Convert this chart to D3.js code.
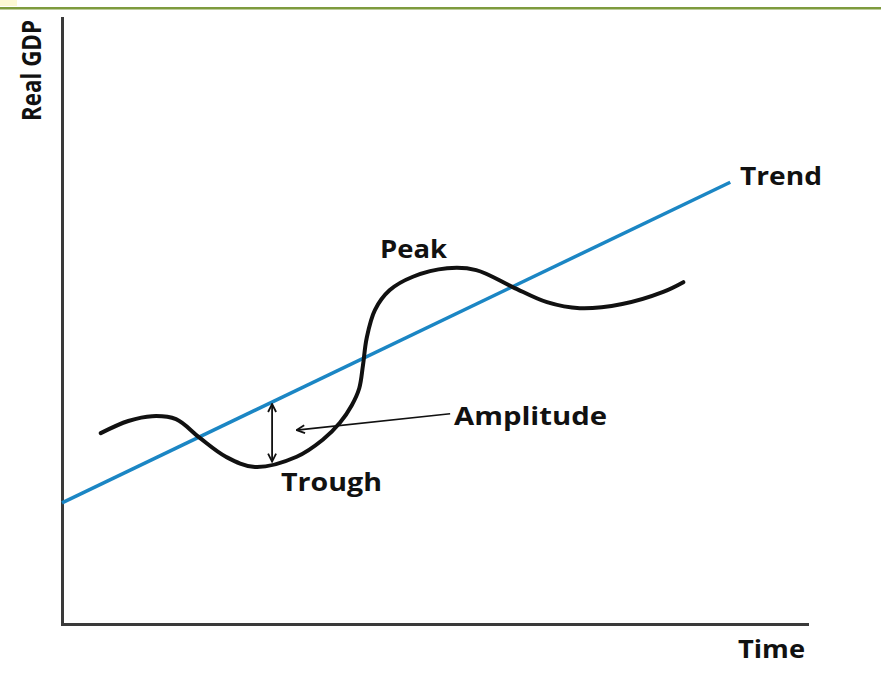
<!DOCTYPE html>
<html>
<head>
<meta charset="utf-8">
<script src="https://cdn.jsdelivr.net/npm/d3@7"></script>
<style>
  body { margin: 0; background: #fff; }
  svg { display: block; }
  text { font-family: "Open Sans", "Noto Sans", sans-serif; font-weight: 700; fill: #111; }
</style>
</head>
<body>
<div id="chart"></div>
<script>
// time runs 0..100 along the x axis, real GDP 0..100 up the y axis
var trendTime = [0, 89.7];
var trendGDP = [20, 72.9];

var cycleTime = [5.2, 8.9, 12.1, 15.3, 18.5, 22.0, 25.9, 31.5, 35.0, 37.3, 38.9, 39.9, 40.4,
                 40.9, 42.0, 44.0, 47.1, 51.7, 55.6, 60.5, 65.1, 69.5, 75.2, 80.7, 83.4];
var cycleGDP = [31.5, 33.5, 34.3, 33.8, 30.7, 27.6, 25.9, 27.6, 30.4, 33.2, 36.1, 38.9, 42.7,
                47.2, 51.8, 55.1, 57.3, 58.7, 58.4, 55.6, 53.1, 52.1, 52.8, 54.8, 56.4];

var amplitudeTime = 28.2;
var amplitudeBottom = 26.8;
var pointerFrom = [52.1, 34.7];
var pointerTo = [31.5, 32.0];

var width = 881, height = 679;

var svg = d3.select("#chart")
  .append("svg")
  .attr("width", width)
  .attr("height", height);

// slide header strip
svg.append("rect").attr("x", 0).attr("y", 0).attr("width", 17).attr("height", 6).attr("fill", "#fcf8d4");
svg.append("rect").attr("x", 0).attr("y", 7).attr("width", width).attr("height", 2.5).attr("fill", "#7e9b3e");

var x = d3.scaleLinear().domain([0, 100]).range([62, 807]);
var y = d3.scaleLinear().domain([0, 100]).range([624, 18]);

var defs = svg.append("defs");
defs.append("marker")
  .attr("id", "vhead")
  .attr("viewBox", "0 0 10 10")
  .attr("refX", 9).attr("refY", 5)
  .attr("markerWidth", 10).attr("markerHeight", 10)
  .attr("markerUnits", "userSpaceOnUse")
  .attr("orient", "auto-start-reverse")
  .append("path")
  .attr("d", "M1,1 L9,5 L1,9")
  .attr("fill", "none")
  .attr("stroke", "#111")
  .attr("stroke-width", 1.8);

// axes (no ticks)
svg.append("g")
  .attr("transform", "translate(0," + y(0) + ")")
  .call(d3.axisBottom(x).tickValues([]).tickSizeOuter(0));
svg.append("g")
  .attr("transform", "translate(" + x(0) + ",0)")
  .call(d3.axisLeft(y).tickValues([]).tickSizeOuter(0));
svg.selectAll(".domain")
  .attr("stroke", "#3a3a3a")
  .attr("stroke-width", 3)
  .attr("stroke-linecap", "square");

// trend line
var trend = trendTime.map(function(t, i) { return [t, trendGDP[i]]; });
svg.append("path")
  .datum(trend)
  .attr("fill", "none")
  .attr("stroke", "#1b86c4")
  .attr("stroke-width", 3.5)
  .attr("d", d3.line().x(function(d) { return x(d[0]); }).y(function(d) { return y(d[1]); }));

// business cycle
var cycle = cycleTime.map(function(t, i) { return [t, cycleGDP[i]]; });
svg.append("path")
  .datum(cycle)
  .attr("fill", "none")
  .attr("stroke", "#111")
  .attr("stroke-width", 4)
  .attr("stroke-linecap", "round")
  .attr("d", d3.line()
    .curve(d3.curveCatmullRom.alpha(0.5))
    .x(function(d) { return x(d[0]); })
    .y(function(d) { return y(d[1]); }));

// amplitude double arrow
var trendAt = d3.scaleLinear().domain(trendTime).range(trendGDP);
svg.append("line")
  .attr("x1", x(amplitudeTime)).attr("y1", y(trendAt(amplitudeTime)) + 2)
  .attr("x2", x(amplitudeTime)).attr("y2", y(amplitudeBottom))
  .attr("stroke", "#111")
  .attr("stroke-width", 1.8)
  .attr("marker-start", "url(#vhead)")
  .attr("marker-end", "url(#vhead)");

// pointer to amplitude
svg.append("line")
  .attr("x1", x(pointerFrom[0])).attr("y1", y(pointerFrom[1]))
  .attr("x2", x(pointerTo[0])).attr("y2", y(pointerTo[1]))
  .attr("stroke", "#111")
  .attr("stroke-width", 1.6)
  .attr("marker-end", "url(#vhead)");

// labels
function label(txt, px, py, len) {
  return svg.append("text")
    .attr("x", px).attr("y", py)
    .attr("font-size", 24.5)
    .attr("textLength", len)
    .attr("lengthAdjust", "spacingAndGlyphs")
    .text(txt);
}
label("Trend", 740, 185, 82);
label("Peak", 380, 258, 67);
label("Amplitude", 454, 425, 153);
label("Trough", 281, 491, 101);
label("Time", 738, 658, 67);

svg.append("text")
  .attr("transform", "translate(41,121) rotate(-90)")
  .attr("font-size", 26)
  .attr("textLength", 101)
  .attr("lengthAdjust", "spacingAndGlyphs")
  .text("Real GDP");
</script>
</body>
</html>
